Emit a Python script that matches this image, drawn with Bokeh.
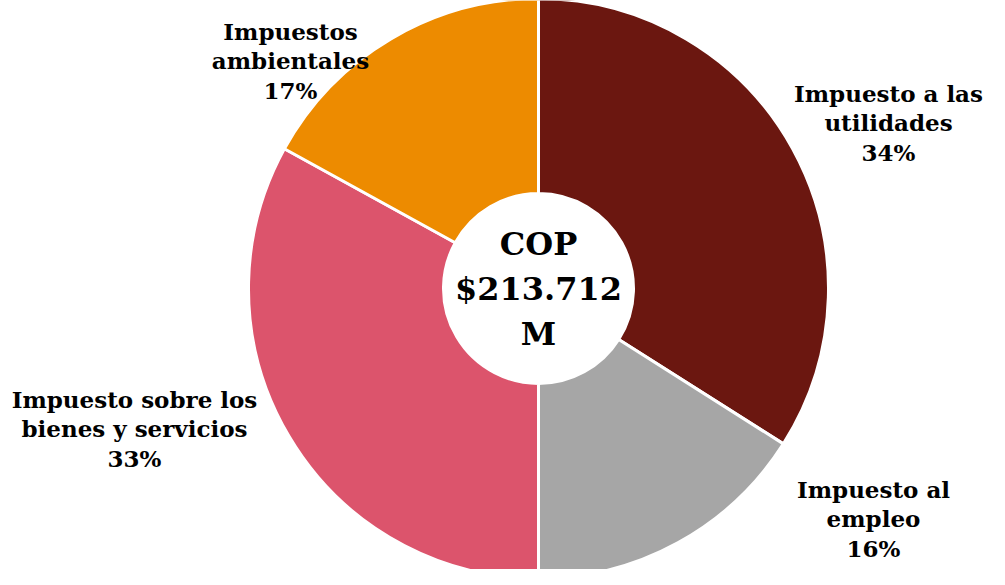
import numpy as np
from bokeh.plotting import figure
from bokeh.models import Range1d, ColumnDataSource
from bokeh.core.properties import value
from bokeh.embed import file_html
from bokeh.resources import INLINE

# ---- data ----
categories = ["Impuesto a las utilidades", "Impuesto al empleo",
              "Impuesto sobre los bienes y servicios", "Impuestos ambientales"]
label_lines = [["Impuesto a las", "utilidades"], ["Impuesto al", "empleo"],
               ["Impuesto sobre los", "bienes y servicios"], ["Impuestos", "ambientales"]]
shares = [34, 16, 33, 17]
colors = ["#6B1710", "#A6A6A6", "#DC546C", "#ED8B00"]
center_lines = ["COP", "$213.712", "M"]

# ---- layout (pixel units) ----
W, H = 989, 569
cx, cy = 538, 281
r_out, r_in = 290, 95
label_pos = [(888, 447), (873, 51), (134, 141), (290, 509)]
line_gap = 29.5
FONT = value("DejaVu Serif")

vals = np.array(shares, dtype=float)
frac = vals / vals.sum()
cum = np.concatenate([[0], np.cumsum(frac)])
start = np.pi / 2 - cum[:-1] * 2 * np.pi
end = np.pi / 2 - cum[1:] * 2 * np.pi

src = ColumnDataSource(dict(x=[cx] * len(vals), y=[cy] * len(vals),
                            start=start, end=end, color=colors, cat=categories))

p = figure(width=W, height=H, x_range=Range1d(0, W), y_range=Range1d(0, H),
           output_backend="svg", toolbar_location=None, min_border=0)
p.axis.visible = False
p.grid.visible = False
p.outline_line_color = None
p.background_fill_color = "white"

p.annular_wedge(x="x", y="y", inner_radius=r_in, outer_radius=r_out,
                start_angle="start", end_angle="end", direction="clock",
                fill_color="color", line_color="white", line_width=3, source=src)

# slice labels
tx, ty, tt = [], [], []
for (lx, ly), lines, s in zip(label_pos, label_lines, shares):
    all_lines = lines + [f"{s}%"]
    n = len(all_lines)
    for i, t in enumerate(all_lines):
        tx.append(lx)
        ty.append(ly + ((n - 1) / 2 - i) * line_gap)
        tt.append(t)
p.text(x=tx, y=ty, text=tt, text_font=FONT, text_font_style="bold",
       text_font_size="23px", text_align="center", text_baseline="middle",
       text_color="#000000")

# center label
cyl = [cy + 45, cy, cy - 45]
p.text(x=[cx] * 3, y=cyl, text=center_lines, text_font=FONT, text_font_style="bold",
       text_font_size="32px", text_align="center", text_baseline="middle",
       text_color="#000000")

open("out.html", "w").write(file_html(p, INLINE))
